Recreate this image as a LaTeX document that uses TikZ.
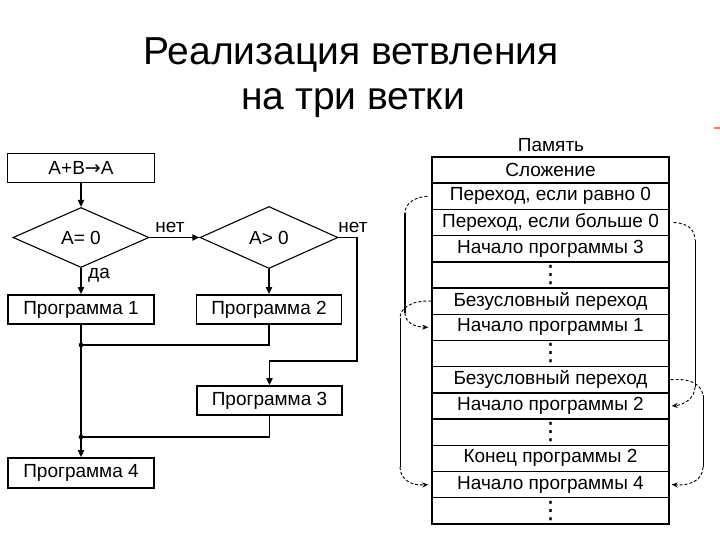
\documentclass[tikz,border=0pt]{standalone}
\usepackage{fontspec}
\setmainfont{Liberation Sans}
\newfontfamily\dv{DejaVu Sans}
\usetikzlibrary{shapes.geometric,arrows.meta}
\begin{document}
\begin{tikzpicture}[x=1pt,y=-1pt,
  txt/.style={font=\fontsize{19}{22}\selectfont},
  box/.style={txt,draw,line width=1.6pt,minimum width=146pt,minimum height=29pt,inner sep=0pt},
  dia/.style={txt,draw,line width=1.1pt,diamond,inner sep=0pt,minimum width=136pt,minimum height=60pt},
  row/.style={txt,draw,line width=1.4pt,minimum width=237pt,minimum height=26.2pt,inner sep=0pt},
  dots/.style={row,font=\dv\fontsize{24}{24}\selectfont},
  lbl/.style={txt,inner sep=0pt},
  flow/.style={line width=1.6pt},
  arr/.style={-{Triangle[length=7pt,width=6pt]}},
  jarr/.style={-{Stealth[length=6pt,width=5pt]}},
  jump/.style={line width=0.9pt,dash pattern=on 3pt off 2pt},
  vline/.style={line width=0.9pt},
]
\useasboundingbox (0,0) rectangle (720,540);
% title
\node[font=\fontsize{39}{44}\selectfont,anchor=base] (t1) at (351,65) {Реализация ветвления};
\node[font=\fontsize{39}{44}\selectfont,anchor=base] (t2) at (353,110) {на три ветки};
\draw[red!55,line width=1.5pt] (714,128) -- (720,128);
% flowchart
\node[box,minimum width=147pt] (a) at (81,168) {A+B{\dv→}A};
\node[dia] (d1) at (81,237.5) {A= 0};
\node[dia,minimum width=138pt,minimum height=62pt] (d2) at (269,237.5) {A> 0};
\node[box] (p1) at (81,309.5) {Программа 1};
\node[box,minimum width=145pt] (p2) at (269,309.5) {Программа 2};
\node[box,minimum width=145pt] (p3) at (269.5,400.5) {Программа 3};
\node[box,minimum height=30pt] (p4) at (81,473) {Программа 4};
\node[lbl,anchor=base] (n1) at (170,233) {нет};
\node[lbl,anchor=base] (n2) at (353,233) {нет};
\node[lbl,anchor=base west] (da) at (88,278) {да};
\coordinate (jr) at (357,361);
\coordinate (j1) at (81,345);
\coordinate (j2) at (81,437);
\draw[flow,arr] (a.south) -- (d1.north);
\draw[flow,arr] (d1.east) -- (d2.west);
\draw[flow,arr] (d1.south) -- (p1.north);
\draw[flow,arr] (d2.south) -- (p2.north);
\draw[flow,arr] (d2.east) -| (jr) -| (p3.north);
\draw[flow,arr] (p1.south) -- (p4.north);
\draw[flow] (p2.south) |- (j1);
\draw[flow] (p3.south) |- (j2);
\fill (j1) circle (2.3pt);
\fill (j2) circle (2.3pt);
% memory
\node[lbl,anchor=base] (mem) at (551,152) {Память};
\node[row] (m0) at (550.5,170.1) {Сложение};
\node[row] (m1) at (550.5,196.3) {Переход, если равно 0};
\node[row] (m2) at (550.5,222.5) {Переход, если больше 0};
\node[row] (m3) at (550.5,248.7) {Начало программы 3};
\node[dots] (m4) at (550.5,274.9) {⋮};
\node[row] (m5) at (550.5,301.1) {Безусловный переход};
\node[row] (m6) at (550.5,327.3) {Начало программы 1};
\node[dots] (m7) at (550.5,353.5) {⋮};
\node[row] (m8) at (550.5,379.7) {Безусловный переход};
\node[row] (m9) at (550.5,405.9) {Начало программы 2};
\node[dots] (m10) at (550.5,432.1) {⋮};
\node[row] (m11) at (550.5,458.3) {Конец программы 2};
\node[row] (m12) at (550.5,484.5) {Начало программы 4};
\node[dots] (m13) at (550.5,510.7) {⋮};
% jumps, left
\coordinate (la1) at (405,213);
\coordinate (la2) at (405,313);
\draw[jump] ([xshift=-4pt]m1.west) .. controls (414,197) and (405,204) .. (la1);
\draw[vline,line width=1.4pt] (la1) -- (la2);
\draw[jump,jarr] (la2) .. controls (405,322) and (414,327) .. ([xshift=-3pt]m6.west);
\coordinate (lb1) at (400,318);
\coordinate (lb2) at (400,467);
\draw[jump] (m5.west) .. controls (412,300) and (400,308) .. (lb1);
\draw[vline] (lb1) -- (lb2);
\draw[jump,jarr] (lb2) .. controls (400,480) and (412,486) .. ([xshift=-3pt]m12.west);
% jumps, right
\coordinate (ra1) at (695,240);
\coordinate (ra2) at (695,387);
\draw[jump] ([xshift=4pt]m2.east) .. controls (688,223) and (695,230) .. (ra1);
\draw[vline] (ra1) -- (ra2);
\draw[jump,jarr] (ra2) .. controls (695,398) and (684,405) .. ([xshift=2pt]m9.east);
\coordinate (rb1) at (703,395);
\coordinate (rb2) at (703,467);
\draw[jump] ([xshift=1pt]m8.east) .. controls (692,378) and (701,385) .. (rb1);
\draw[vline] (rb1) -- (rb2);
\draw[jump,jarr] (rb2) .. controls (703,480) and (690,486) .. ([xshift=2pt]m12.east);
\end{tikzpicture}
\end{document}
